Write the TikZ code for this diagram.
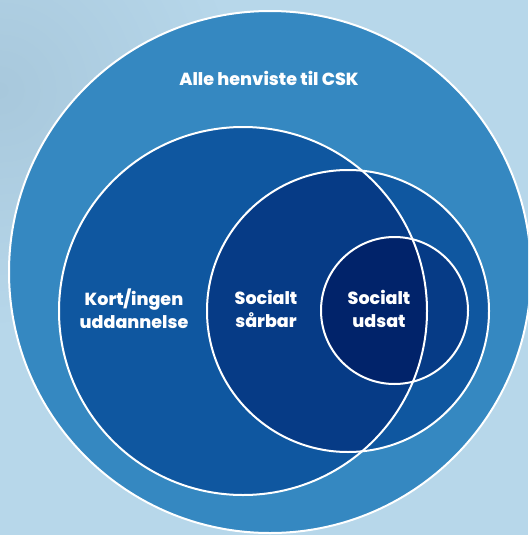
\documentclass[tikz,border=0pt]{standalone}
\usepackage{fontspec}
\setmainfont{Poppins}[BoldFont={Poppins ExtraBold}]
\definecolor{bgcol}{HTML}{B7D7EA}
\definecolor{bgshade}{HTML}{A8C8DC}
\definecolor{ringA}{HTML}{3588C1}
\definecolor{ringB}{HTML}{0F57A0}
\definecolor{ringC}{HTML}{063B86}
\definecolor{ringD}{HTML}{01236A}
\tikzset{
  outline/.style={draw=white, line width=2pt},
  label/.style={text=white, font=\fontsize{17.5}{23}\selectfont\bfseries, align=center, inner sep=0pt}
}
\begin{document}
\begin{tikzpicture}[x=1pt, y=-1pt]
  % canvas
  \useasboundingbox (0,0) rectangle (528,535);
  \fill[bgcol] (0,0) rectangle (528,535);
  \begin{scope}
    \clip (0,0) rectangle (528,535);
    \shade[inner color=bgshade, outer color=bgcol] (0,90) circle (240);
  \end{scope}

  % circle centres
  \coordinate (all) at (270,272);
  \coordinate (edu) at (243,311);
  \coordinate (vul) at (348,311);
  \coordinate (exc) at (394.5,310.5);

  \begin{scope}
    \clip (0,0) rectangle (528,535);
    % everyone referred
    \fill[ringA] (all) circle (261);
    % short/no education and socially vulnerable
    \fill[ringB] (edu) circle (184);
    \fill[ringB] (vul) circle (141);
    \begin{scope}
      \clip (edu) circle (184);
      \fill[ringC] (vul) circle (141);
    \end{scope}
    % socially excluded
    \fill[ringC] (exc) circle (73.5);
    \begin{scope}
      \clip (edu) circle (184);
      \fill[ringD] (exc) circle (73.5);
    \end{scope}
    % white rims
    \draw[outline] (all) circle (261);
    \draw[outline] (edu) circle (184);
    \draw[outline] (vul) circle (141);
    \draw[outline] (exc) circle (73.5);
  \end{scope}

  % labels
  \node[label] (tall) at (269,78) {Alle henviste til CSK};
  \node[label] (tedu) at (134,309) {Kort/ingen\\uddannelse};
  \node[label] (tvul) at (266,309) {Socialt\\sårbar};
  \node[label] (texc) at (379,309) {Socialt\\udsat};
\end{tikzpicture}
\end{document}
